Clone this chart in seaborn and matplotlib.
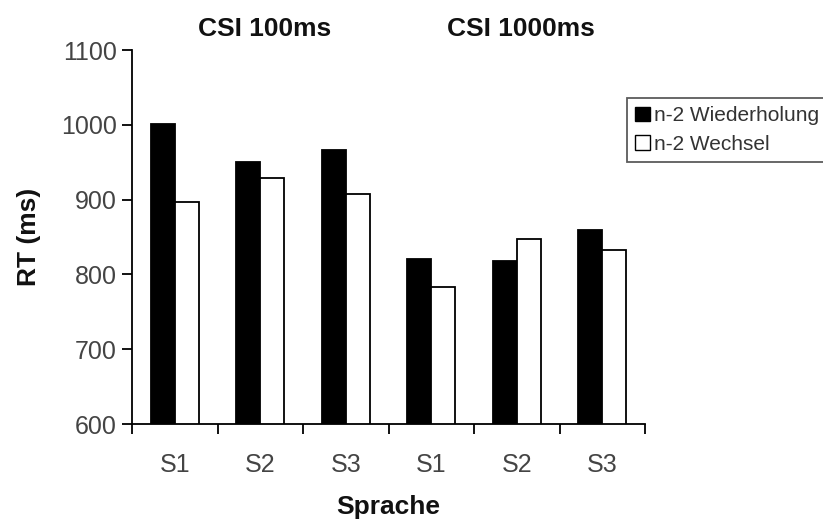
import matplotlib
matplotlib.use("Agg")
import matplotlib.pyplot as plt
import matplotlib.transforms as mtransforms
from matplotlib.patches import Patch
import seaborn as sns
import pandas as pd

# ---- data ----
csi_groups = ["CSI 100ms", "CSI 100ms", "CSI 100ms", "CSI 1000ms", "CSI 1000ms", "CSI 1000ms"]
sprache = ["S1", "S2", "S3", "S1", "S2", "S3"]
wiederholung = [1001, 950, 966, 821, 818, 859]
wechsel = [897, 929, 907, 783, 847, 832]
conditions = ["n-2 Wiederholung", "n-2 Wechsel"]
yticks = [600, 700, 800, 900, 1000, 1100]

cats = [f"{g} {s}" for g, s in zip(csi_groups, sprache)]
df = pd.DataFrame({
    "cat": cats * 2,
    "cond": [conditions[0]] * 6 + [conditions[1]] * 6,
    "RT": wiederholung + wechsel,
})

sns.set_theme(style="white")
plt.rcParams["font.family"] = ["Liberation Sans", "DejaVu Sans"]

fig = plt.figure(figsize=(8.23, 5.22), dpi=100)
ax = fig.add_axes([132 / 823, 1 - 424 / 522, (645 - 132) / 823, (424 - 50) / 522])

sns.barplot(data=df, x="cat", y="RT", hue="cond", order=cats, hue_order=conditions,
            palette=["black", "white"], width=0.56, edgecolor="black", linewidth=1.3,
            errorbar=None, legend=False, ax=ax, saturation=1)

ax.set_xlim(-0.5, 5.5)
ax.set_ylim(600, 1100)
ax.set_yticks(yticks)
ax.set_yticklabels([str(t) for t in yticks], fontsize=18, color="#444444")

# category labels at centers (no tick marks), tick marks at boundaries
ax.set_xticks(range(6))
ax.set_xticklabels(sprache, fontsize=18, color="#444444")
ax.tick_params(axis="x", which="major", length=0, pad=21)
ax.set_xticks([i - 0.5 for i in range(7)], minor=True)
ax.tick_params(axis="x", which="minor", length=7, width=1.3, color="black", direction="out", bottom=True)
ax.tick_params(axis="y", which="major", length=7, width=1.3, color="black", direction="out", left=True, pad=4)

for s in ["top", "right"]:
    ax.spines[s].set_visible(False)
for s in ["left", "bottom"]:
    ax.spines[s].set_color("black")
    ax.spines[s].set_linewidth(1.3)

ax.set_xlabel("Sprache", fontsize=19, fontweight="bold", color="#111111", labelpad=13)
ax.set_ylabel("RT (ms)", fontsize=19, fontweight="bold", color="#111111", labelpad=14)

# group titles
trans = mtransforms.blended_transform_factory(ax.transData, fig.transFigure)
titles = ["CSI 100ms", "CSI 1000ms"]
for i, t in enumerate(titles):
    ax.text(1.05 + 3 * i, 1 - 29 / 522, t, transform=trans, ha="center", va="center",
            fontsize=19, fontweight="bold", color="#111111")

handles = [Patch(facecolor="black", edgecolor="black", label=conditions[0]),
           Patch(facecolor="white", edgecolor="black", label=conditions[1])]
leg = fig.legend(handles=handles, loc="upper left", bbox_to_anchor=(627 / 823, 1 - 98 / 522),
                 fontsize=15, frameon=True, fancybox=False, handlelength=0.7, handleheight=0.7,
                 handletextpad=0.2, borderpad=0.4, labelspacing=0.45, borderaxespad=0)
leg.get_frame().set_edgecolor("#333333")
leg.get_frame().set_linewidth(1.3)
for txt in leg.get_texts():
    txt.set_color("#333333")

fig.savefig("out.png", dpi=100)
